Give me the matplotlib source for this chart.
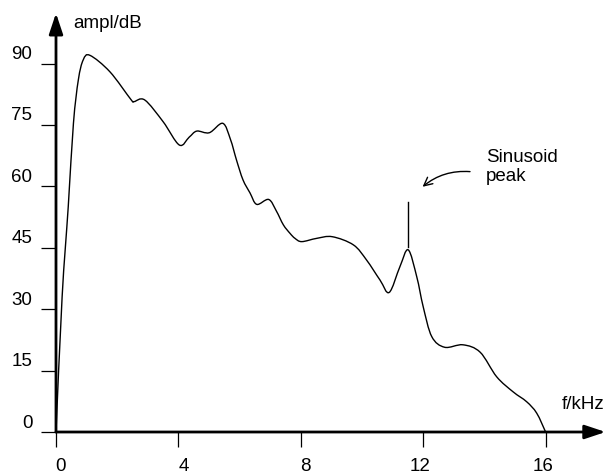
import numpy as np
import matplotlib
matplotlib.use("Agg")
import matplotlib.pyplot as plt
from matplotlib.path import Path
from matplotlib.patches import PathPatch
import matplotlib.transforms as mtransforms

plt.rcParams['font.family'] = ['Liberation Sans', 'DejaVu Sans']

# ---- data ----
freq_khz = [0.0, 0.20, 0.40, 0.57, 0.73, 0.89, 1.11, 1.76, 2.45, 2.55, 2.9, 3.5,
            4.03, 4.35, 4.6, 5.01, 5.45, 5.7, 5.9, 6.11, 6.34, 6.56, 6.95, 7.2,
            7.43, 7.65, 7.81, 8.03, 8.52, 9.03, 9.72, 10.15, 10.59, 10.89, 11.24,
            11.51, 11.79, 12.0, 12.28, 12.7, 13.3, 13.86, 14.4, 14.94, 15.38,
            15.71, 16.0]
ampl_db = [0.0, 33.0, 55.0, 75.4, 86.0, 90.9, 92.0, 88.0, 81.2, 80.7, 81.1, 75.8,
           70.1, 72.0, 73.5, 73.1, 75.4, 71.5, 66.4, 61.6, 58.4, 55.6, 56.8, 54.0,
           50.6, 48.5, 47.3, 46.5, 47.3, 47.7, 45.7, 42.0, 37.1, 34.1, 40.4,
           44.5, 37.9, 30.6, 23.3, 20.7, 21.3, 19.5, 13.5, 9.8, 7.4,
           4.6, 0.0]

x_ticks = [0, 4, 8, 12, 16]
y_ticks = [0, 15, 30, 45, 60, 75, 90]
x_label = "f/kHz"
y_label = "ampl/dB"
annot_text = "Sinusoid\npeak"
peak_freq = 11.5
peak_line_db = [45.2, 56.2]

# ---- figure ----
W, H, DPI = 606, 471, 100
fig = plt.figure(figsize=(W / DPI, H / DPI), dpi=DPI)
ax = fig.add_axes([0, 0, 1, 1])
ax.set_xlim(-1.830, 17.974)
ax.set_ylim(-9.526, 105.52)

for s in ax.spines.values():
    s.set_color('none')
ax.spines['left'].set_position(('data', 0))
ax.spines['bottom'].set_position(('data', 0))

FS = 13.5
ax.set_xticks(x_ticks)
ax.set_xticklabels([str(v) for v in x_ticks])
ax.set_yticks(y_ticks)
ax.set_yticklabels([str(v) for v in y_ticks])
ax.tick_params(axis='both', direction='out', length=10.5, width=0.9,
               labelsize=FS, colors='black')
ax.tick_params(axis='y', pad=6.5)
ax.tick_params(axis='x', pad=8)

# shift y tick labels upward, x tick labels slightly sideways
for lab in ax.get_yticklabels():
    lab.set_transform(mtransforms.offset_copy(lab.get_transform(), fig=fig,
                                              x=0, y=11, units='dots'))
x_shift = [5, 5, 5, -3, -3]
for lab, dx in zip(ax.get_xticklabels(), x_shift):
    lab.set_transform(mtransforms.offset_copy(lab.get_transform(), fig=fig,
                                              x=dx, y=0, units='dots'))

# axes with arrowheads
arrow_kw = dict(arrowstyle='-|>,head_length=0.9,head_width=0.3', lw=2,
                color='black', shrinkA=0, shrinkB=0, mutation_scale=14)
ax.annotate('', xy=(0, 102.3), xytext=(0, 0), arrowprops=arrow_kw)
ax.annotate('', xy=(17.96, 0), xytext=(0, 0), arrowprops=arrow_kw)

# smooth curve via Catmull-Rom -> cubic Bezier
pts = np.column_stack([freq_khz, ampl_db])
verts = [tuple(pts[0])]
codes = [Path.MOVETO]
n = len(pts)
for i in range(n - 1):
    p0 = pts[i - 1] if i > 0 else pts[i]
    p1 = pts[i]
    p2 = pts[i + 1]
    p3 = pts[i + 2] if i + 2 < n else pts[i + 1]
    c1 = p1 + (p2 - p0) / 6.0
    c2 = p2 - (p3 - p1) / 6.0
    verts += [tuple(c1), tuple(c2), tuple(p2)]
    codes += [Path.CURVE4] * 3
ax.add_patch(PathPatch(Path(verts, codes), facecolor='none', edgecolor='black', lw=1.0))

# sinusoid peak marker
ax.plot([peak_freq, peak_freq], peak_line_db, color='black', lw=1.0)

# annotation
ax.annotate('', xy=(11.98, 59.9), xytext=(13.53, 63.6),
            arrowprops=dict(arrowstyle='->,head_length=0.6,head_width=0.3',
                            connectionstyle='arc3,rad=0.2', lw=1.0,
                            color='black', shrinkA=0, shrinkB=0))
ax.text(14.05, 64.7, annot_text, fontsize=FS, ha='left', va='center',
        linespacing=1.15)

# axis labels
ax.text(0.556, 99.9, y_label, fontsize=FS, ha='left', va='center')
ax.text(16.54, 6.6, x_label, fontsize=FS, ha='left', va='center')

fig.savefig('out.png', dpi=DPI)
